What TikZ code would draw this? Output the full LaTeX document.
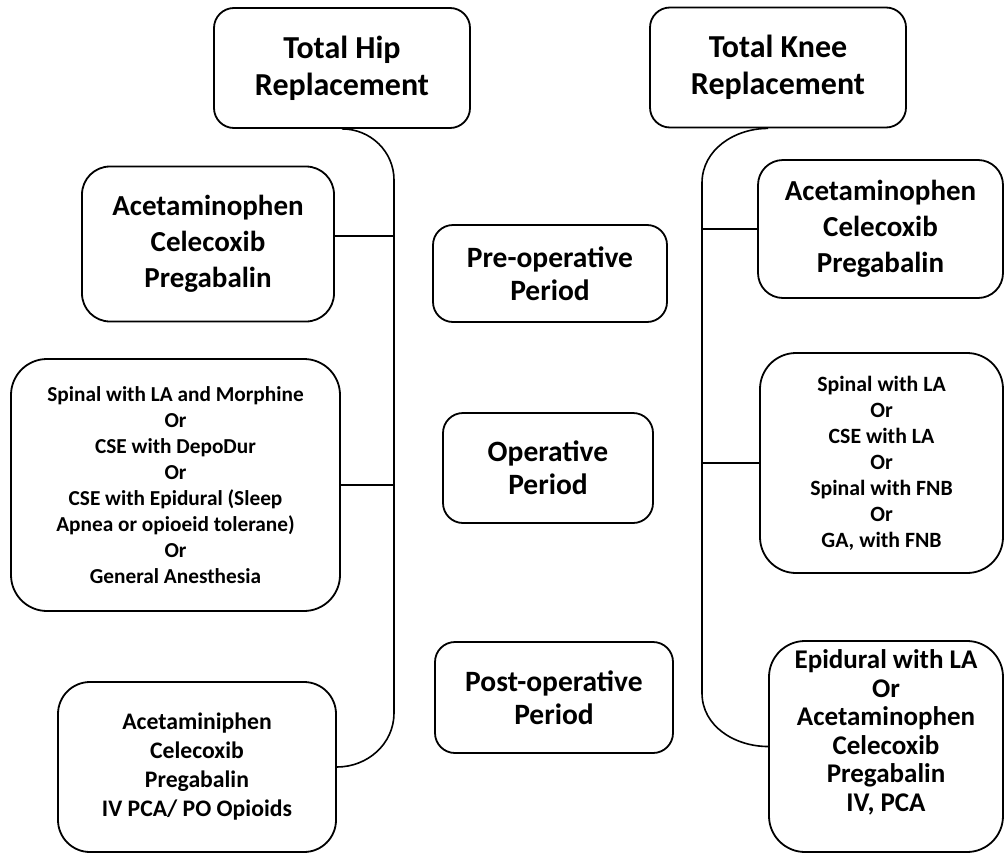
\documentclass[tikz,border=0pt]{standalone}
\usepackage{fontspec}
\setmainfont{Carlito}

\begin{document}
\begin{tikzpicture}[x=1pt, y=-1pt,
    box/.style={draw, line width=1.8pt, align=center, inner sep=0pt},
    title/.style={box, rounded corners=20pt, minimum width=256pt, minimum height=120pt,
      font=\fontsize{32}{37}\selectfont\bfseries},
    period/.style={box, rounded corners=20pt, font=\fontsize{29.5}{33}\selectfont\bfseries},
    drug/.style={box, rounded corners=28pt, font=\fontsize{29}{36}\selectfont\bfseries},
    link/.style={line width=1.6pt}]
    \useasboundingbox (0,0) rectangle (1004,854);

    % column heads
    \node[title] (hip) at (342,68) {Total Hip\\Replacement};
    \node[title] (knee) at (778,67.5) {Total Knee\\Replacement};

    % periods in the middle
    \node[period, minimum width=234pt, minimum height=97pt] (pre) at (550,273.5) {Pre-operative\\Period};
    \node[period, minimum width=210pt, minimum height=110pt] (op) at (548,468) {Operative\\Period};
    \node[period, minimum width=238pt, minimum height=111pt] (post) at (554,697.5) {Post-operative\\Period};

    % hip side
    \node[drug, minimum width=252pt, minimum height=155pt] (hpre) at (208,244) {Acetaminophen\\Celecoxib\\Pregabalin};
    \node[drug, rounded corners=36pt, minimum width=329pt, minimum height=252pt,
      font=\fontsize{21.3}{26}\selectfont\bfseries] (hop) at (175.5,485)
      {Spinal with LA and Morphine\\Or\\CSE with DepoDur\\Or\\CSE with Epidural (Sleep\\Apnea or opioeid tolerane)\\Or\\General Anesthesia};
    \node[drug, rounded corners=32pt, minimum width=278pt, minimum height=170pt,
      font=\fontsize{23.7}{29}\selectfont\bfseries] (hpost) at (197,767)
      {Acetaminiphen\\Celecoxib\\Pregabalin\\IV PCA/ PO Opioids};

    % knee side
    \node[drug, rounded corners=25pt, minimum width=245pt, minimum height=138pt] (kpre) at (880.5,229) {Acetaminophen\\Celecoxib\\Pregabalin};
    \node[drug, rounded corners=36pt, minimum width=243pt, minimum height=220pt,
      font=\fontsize{21.8}{26}\selectfont\bfseries] (kop) at (881.5,463)
      {Spinal with LA\\Or\\CSE with LA\\Or\\Spinal with FNB\\Or\\GA, with FNB};
    \node[drug, rounded corners=36pt, minimum width=234pt, minimum height=211pt,
      font=\fontsize{27}{28.5}\selectfont\bfseries] (kpost) at (886,746.5)
      {Epidural with LA\\Or\\Acetaminophen\\Celecoxib\\Pregabalin\\IV, PCA\\[3.5pt]\mbox{}};

    % spines
    \coordinate (htop) at (394,180);
    \coordinate (hbot) at (394,713);
    \coordinate (ktop) at (702,183);
    \coordinate (kbot) at (702,693);

    \draw[link] (hip.south) to[out=0, in=90] (htop) -- (hbot) to[out=-90, in=0] (hpost.east);
    \draw[link] ([yshift=8pt]hpre.east) -- ([yshift=8pt]hpre.east -| htop);
    \draw[link] (hop.east) -- (hop.east -| htop);

    \draw[link] ([xshift=-10pt]knee.south) to[out=180, in=90] (ktop) -- (kbot) to[out=-90, in=180] (kpost.west);
    \draw[link] (kpre.west) -- (kpre.west -| ktop);
    \draw[link] (kop.west) -- (kop.west -| ktop);
\end{tikzpicture}
\end{document}
